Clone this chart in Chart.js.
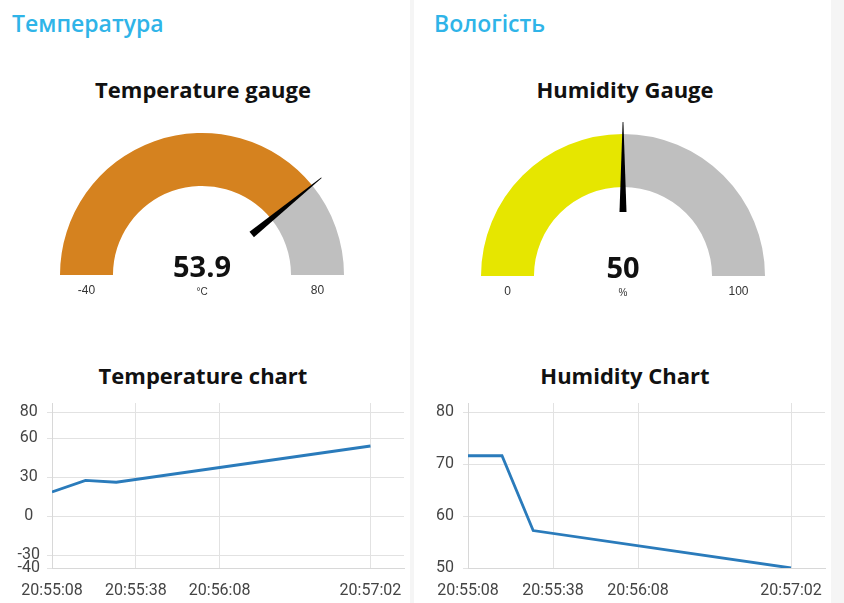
<!DOCTYPE html>
<html>
<head>
<meta charset="utf-8">
<script src="https://cdn.jsdelivr.net/npm/chart.js@4.4.1/dist/chart.umd.min.js"></script>
<style>
  html, body { margin: 0; padding: 0; }
  body { width: 844px; height: 603px; background: #f5f5f5; position: relative; overflow: hidden; font-family: "Open Sans", sans-serif; }
  .panel { position: absolute; top: 0; height: 603px; background: #fff; }
  .hdr { position: absolute; top: 7px; font-size: 23px; font-weight: 600; color: #2fb4e8; }
  .ttl { position: absolute; width: 410px; text-align: center; font-size: 22px; font-weight: 700; color: #111; }
  canvas { position: absolute; }
</style>
</head>
<body>
<div class="panel" style="left:0;width:410px"></div>
<div class="panel" style="left:414px;width:417px"></div>

<div class="hdr" style="left:12px">Температура</div>
<div class="hdr" style="left:434px">Вологість</div>

<div class="ttl" style="left:-2px;top:74px">Temperature gauge</div>
<div class="ttl" style="left:420px;top:74px">Humidity Gauge</div>
<div class="ttl" style="left:-2px;top:360px">Temperature chart</div>
<div class="ttl" style="left:420px;top:360px">Humidity Chart</div>

<canvas id="gTemp" width="330" height="190" style="left:37px;top:117px;width:330px;height:190px"></canvas>
<canvas id="gHum" width="330" height="190" style="left:458px;top:118px;width:330px;height:190px"></canvas>
<canvas id="cTemp" width="410" height="205" style="left:0;top:398px;width:410px;height:205px"></canvas>
<canvas id="cHum" width="434" height="205" style="left:410px;top:398px;width:434px;height:205px"></canvas>

<script>
// gauge data
const tempGauge = { value: 53.9, min: -40, max: 80, units: "°C" };
const humGauge = { value: 50, min: 0, max: 100, units: "%" };

// chart data
const times = ["20:55:08", "20:55:20", "20:55:31", "20:57:02"];
const tempValues = [18.5, 27.5, 26, 53.9];
const humValues = [71.6, 71.6, 57.2, 50];
const timeTicks = ["20:55:08", "20:55:38", "20:56:08", "20:57:02"];
const tempTicks = [80, 60, 30, 0, -30, -40];
const humTicks = [80, 70, 60, 50];

const tickFont = { family: "Roboto, sans-serif", size: 16 };

function toSec(s) {
  const p = s.split(":").map(Number);
  return p[0] * 3600 + p[1] * 60 + p[2];
}
const t0 = toSec(times[0]);
function fmt(sec) {
  const t = Math.round(sec + t0);
  const h = Math.floor(t / 3600), m = Math.floor(t / 60) % 60, s = t % 60;
  return [h, m, s].map(v => String(v).padStart(2, "0")).join(":");
}

// needle + labels for the half doughnut
const gaugePlugin = {
  id: "gauge",
  afterDraw(chart) {
    const g = chart.options.plugins.gauge;
    const arc = chart.getDatasetMeta(0).data[0];
    const { x, y, outerRadius, innerRadius } = arc;
    const ctx = chart.ctx;
    const frac = (g.value - g.min) / (g.max - g.min);
    const ang = Math.PI + frac * Math.PI;
    const r0 = innerRadius * 0.72, r1 = outerRadius + 12;
    const cos = Math.cos(ang), sin = Math.sin(ang);
    const px = -sin, py = cos;
    ctx.save();
    ctx.fillStyle = "#000";
    ctx.beginPath();
    ctx.moveTo(x + cos * r0 + px * 3.5, y + sin * r0 + py * 3.5);
    ctx.lineTo(x + cos * r1 + px * 0.4, y + sin * r1 + py * 0.4);
    ctx.lineTo(x + cos * r1 - px * 0.4, y + sin * r1 - py * 0.4);
    ctx.lineTo(x + cos * r0 - px * 3.5, y + sin * r0 - py * 3.5);
    ctx.closePath();
    ctx.fill();

    ctx.textAlign = "center";
    ctx.textBaseline = "alphabetic";
    ctx.fillStyle = "#111";
    ctx.font = "bold 29px 'Open Sans', sans-serif";
    ctx.fillText(String(g.value), x, y + 2);
    ctx.fillStyle = "#333";
    ctx.font = "10px 'Liberation Sans', Arial, sans-serif";
    ctx.fillText(g.units, x, y + 20);
    ctx.font = "12px 'Liberation Sans', Arial, sans-serif";
    const mid = (outerRadius + innerRadius) / 2;
    ctx.fillText(String(g.min), x - mid, y + 19);
    ctx.fillText(String(g.max), x + mid, y + 19);
    ctx.restore();
  }
};

function makeGauge(id, g, color) {
  new Chart(document.getElementById(id), {
    type: "doughnut",
    data: {
      datasets: [{
        data: [g.value - g.min, g.max - g.value],
        backgroundColor: [color, "#bfbfbf"],
        borderWidth: 0
      }]
    },
    options: {
      responsive: false,
      animation: false,
      rotation: -90,
      circumference: 180,
      cutout: "62.7%",
      layout: { padding: { left: 23, right: 23, top: 16, bottom: 32 } },
      plugins: { legend: { display: false }, tooltip: { enabled: false }, gauge: g }
    },
    plugins: [gaugePlugin]
  });
}

function noPad(s) {
  s.paddingLeft = 0; s.paddingRight = 0; s.paddingTop = 0; s.paddingBottom = 0;
}

function makeLine(id, values, yTicks, yMin, yMax, axisW, pad, tickPad) {
  const xs = times.map(s => toSec(s) - t0);
  new Chart(document.getElementById(id), {
    type: "line",
    data: {
      datasets: [{
        data: xs.map((x, i) => ({ x: x, y: values[i] })),
        borderColor: "#2a7bbb",
        borderWidth: 2.8,
        pointRadius: 0,
        tension: 0,
        fill: false
      }]
    },
    options: {
      responsive: false,
      animation: false,
      layout: { padding: pad },
      plugins: { legend: { display: false }, tooltip: { enabled: false } },
      scales: {
        x: {
          type: "linear",
          min: 0,
          max: 126,
          afterBuildTicks: s => { s.ticks = timeTicks.map(t => ({ value: toSec(t) - t0 })); },
          afterFit: s => { s.height = 35; noPad(s); },
          grid: { color: "#e2e2e2", drawTicks: false },
          border: { color: "#d8d8d8" },
          ticks: { callback: v => fmt(v), color: "#444", font: tickFont, padding: 13, maxRotation: 0, autoSkip: false }
        },
        y: {
          min: yMin,
          max: yMax,
          afterBuildTicks: s => { s.ticks = yTicks.map(v => ({ value: v })); },
          afterFit: s => { s.width = axisW; noPad(s); },
          grid: { color: "#e2e2e2", tickLength: 5 },
          border: { color: "#d8d8d8" },
          ticks: { color: "#444", font: tickFont, padding: tickPad, crossAlign: "center", autoSkip: false }
        }
      }
    }
  });
}

makeGauge("gTemp", tempGauge, "#d5821f");
makeGauge("gHum", humGauge, "#e6e600");
makeLine("cTemp", tempValues, tempTicks, -40, 87, 52, { top: 5, right: 6, left: 0, bottom: 0 }, 7);
makeLine("cHum", humValues, humTicks, 50, 81.75, 58, { top: 5, right: 19, left: 0, bottom: 0 }, 9);
</script>
</body>
</html>
